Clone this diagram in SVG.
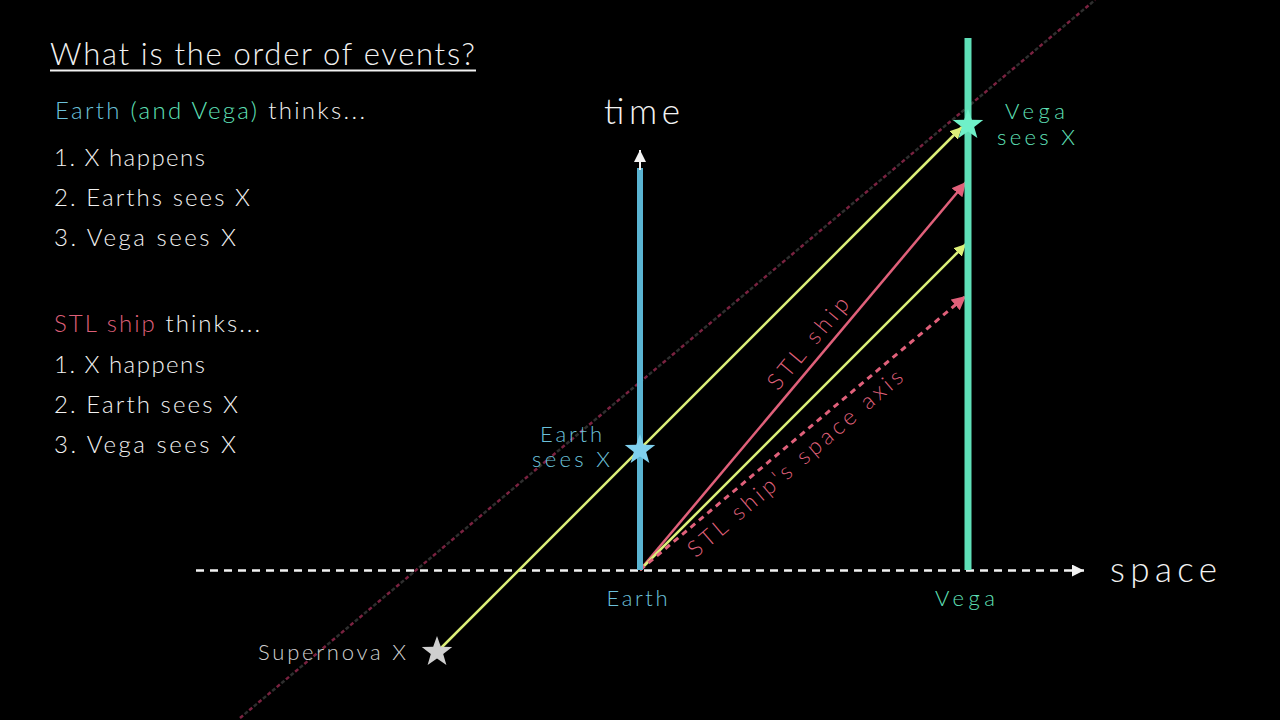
<svg xmlns="http://www.w3.org/2000/svg" width="1280" height="720" viewBox="0 0 1280 720">
<style>
text{font-family:Lato,"Noto Sans","Liberation Sans",sans-serif;font-weight:300}
.w{fill:#f2f2f2}
.blue{fill:#6cc0da}
.teal{fill:#5fe0b8}
.red{fill:#de5f78}
.gray{fill:#d0d0d0}
.list{font-size:24px}
</style>
<defs>
<path id="star" d="M0,-16 L3.82,-5.26 L15.22,-4.94 L6.18,2.01 L9.4,12.94 L0,6.5 L-9.4,12.94 L-6.18,2.01 L-15.22,-4.94 L-3.82,-5.26 Z"/>
<marker id="ahW" markerUnits="userSpaceOnUse" markerWidth="14" markerHeight="14" refX="12" refY="6" orient="auto"><path d="M0,0 L12,6 L0,12 Z" fill="#f2f2f2"/></marker>
<marker id="ahY" markerUnits="userSpaceOnUse" markerWidth="14" markerHeight="14" refX="12" refY="6" orient="auto"><path d="M0,0 L12,6 L0,12 Z" fill="#dcef78"/></marker>
<marker id="ahR" markerUnits="userSpaceOnUse" markerWidth="16" markerHeight="16" refX="14" refY="7" orient="auto"><path d="M0,0 L14,7 L0,14 Z" fill="#e0607a"/></marker>
</defs>
<rect width="1280" height="720" fill="#000"/>

<g id="left-text">
<text x="50" y="65" class="w" font-size="31" textLength="425">What is the order of events?</text>
<line x1="50" y1="70.5" x2="476" y2="70.5" stroke="#f2f2f2" stroke-width="2"/>
<text x="55" y="119" font-size="24" textLength="310"><tspan class="blue">Earth</tspan> <tspan class="teal">(and Vega)</tspan> <tspan class="w">thinks...</tspan></text>
<text x="54" y="166" class="w list" textLength="151">1. X happens</text>
<text x="54" y="206" class="w list" textLength="196">2. Earths sees X</text>
<text x="54" y="246" class="w list" textLength="182">3. Vega sees X</text>
<text x="54" y="332" font-size="24" textLength="206"><tspan class="red">STL ship</tspan> <tspan class="w">thinks...</tspan></text>
<text x="54" y="373" class="w list" textLength="151">1. X happens</text>
<text x="54" y="413" class="w list" textLength="184">2. Earth sees X</text>
<text x="54" y="453" class="w list" textLength="182">3. Vega sees X</text>
</g>

<g id="connectors" fill="none">
<line x1="240" y1="718" x2="1095" y2="0" stroke="#7a2240" stroke-width="2.5" stroke-dasharray="4 8"/>
<line x1="240" y1="718" x2="1095" y2="0" stroke="#2e2e2e" stroke-width="2.5" stroke-dasharray="4 8" stroke-dashoffset="6"/>
<line id="space-axis" x1="196" y1="570.5" x2="1084" y2="570.5" stroke="#f2f2f2" stroke-width="2.5" stroke-dasharray="8 6" marker-end="url(#ahW)"/>
<line id="light-supernova" x1="437" y1="652" x2="962" y2="127" stroke="#dcef78" stroke-width="2.5" marker-end="url(#ahY)"/>
<line id="stl-ship" x1="640" y1="570" x2="966" y2="182" stroke="#e0607a" stroke-width="2.5" marker-end="url(#ahR)"/>
<line id="light-earth" x1="640" y1="570" x2="966" y2="244" stroke="#dcef78" stroke-width="2.5" marker-end="url(#ahY)"/>
<line id="stl-space-axis" x1="640" y1="570" x2="966" y2="296" stroke="#e0607a" stroke-width="3" stroke-dasharray="6 5" marker-end="url(#ahR)"/>
</g>

<g id="earth">
<line x1="640" y1="570" x2="640" y2="168" stroke="#5ab4d2" stroke-width="6"/>
<line x1="640" y1="170" x2="640" y2="150" stroke="#f2f2f2" stroke-width="2" marker-end="url(#ahW)"/>
<text x="642" y="124" class="w" font-size="35" text-anchor="middle" textLength="76">time</text>
<text x="637" y="606" class="blue" font-size="22" text-anchor="middle" textLength="61">Earth</text>
</g>

<g id="vega">
<line x1="968" y1="38" x2="968" y2="570" stroke="#5fe0b8" stroke-width="7"/>
<text x="965" y="606" class="teal" font-size="22" text-anchor="middle" textLength="60">Vega</text>
</g>

<g id="space-label">
<text x="1110" y="582" class="w" font-size="35" textLength="107">space</text>
</g>

<g id="supernova-x">
<use href="#star" x="437" y="652" fill="#cfcfcf"/>
<text x="258" y="660" class="gray" font-size="22" textLength="148">Supernova X</text>
</g>

<g id="earth-sees-x">
<use href="#star" x="640" y="450" fill="#7fd0ee"/>
<text x="571" y="442" class="blue" font-size="22" text-anchor="middle" textLength="62">Earth</text>
<text x="571" y="467" class="blue" font-size="22" text-anchor="middle" textLength="78">sees X</text>
</g>

<g id="vega-sees-x">
<use href="#star" x="968" y="125" fill="#6ff0c8"/>
<text x="1035" y="119" class="teal" font-size="22" text-anchor="middle" textLength="60">Vega</text>
<text x="1036" y="145" class="teal" font-size="22" text-anchor="middle" textLength="78">sees X</text>
</g>

<g id="stl-labels">
<text transform="translate(808,343) rotate(-50)" y="8" class="red" font-size="23" text-anchor="middle" textLength="113">STL ship</text>
<text transform="translate(795,463) rotate(-40.6)" y="8" class="red" font-size="23" text-anchor="middle" textLength="275">STL ship's space axis</text>
</g>
</svg>
